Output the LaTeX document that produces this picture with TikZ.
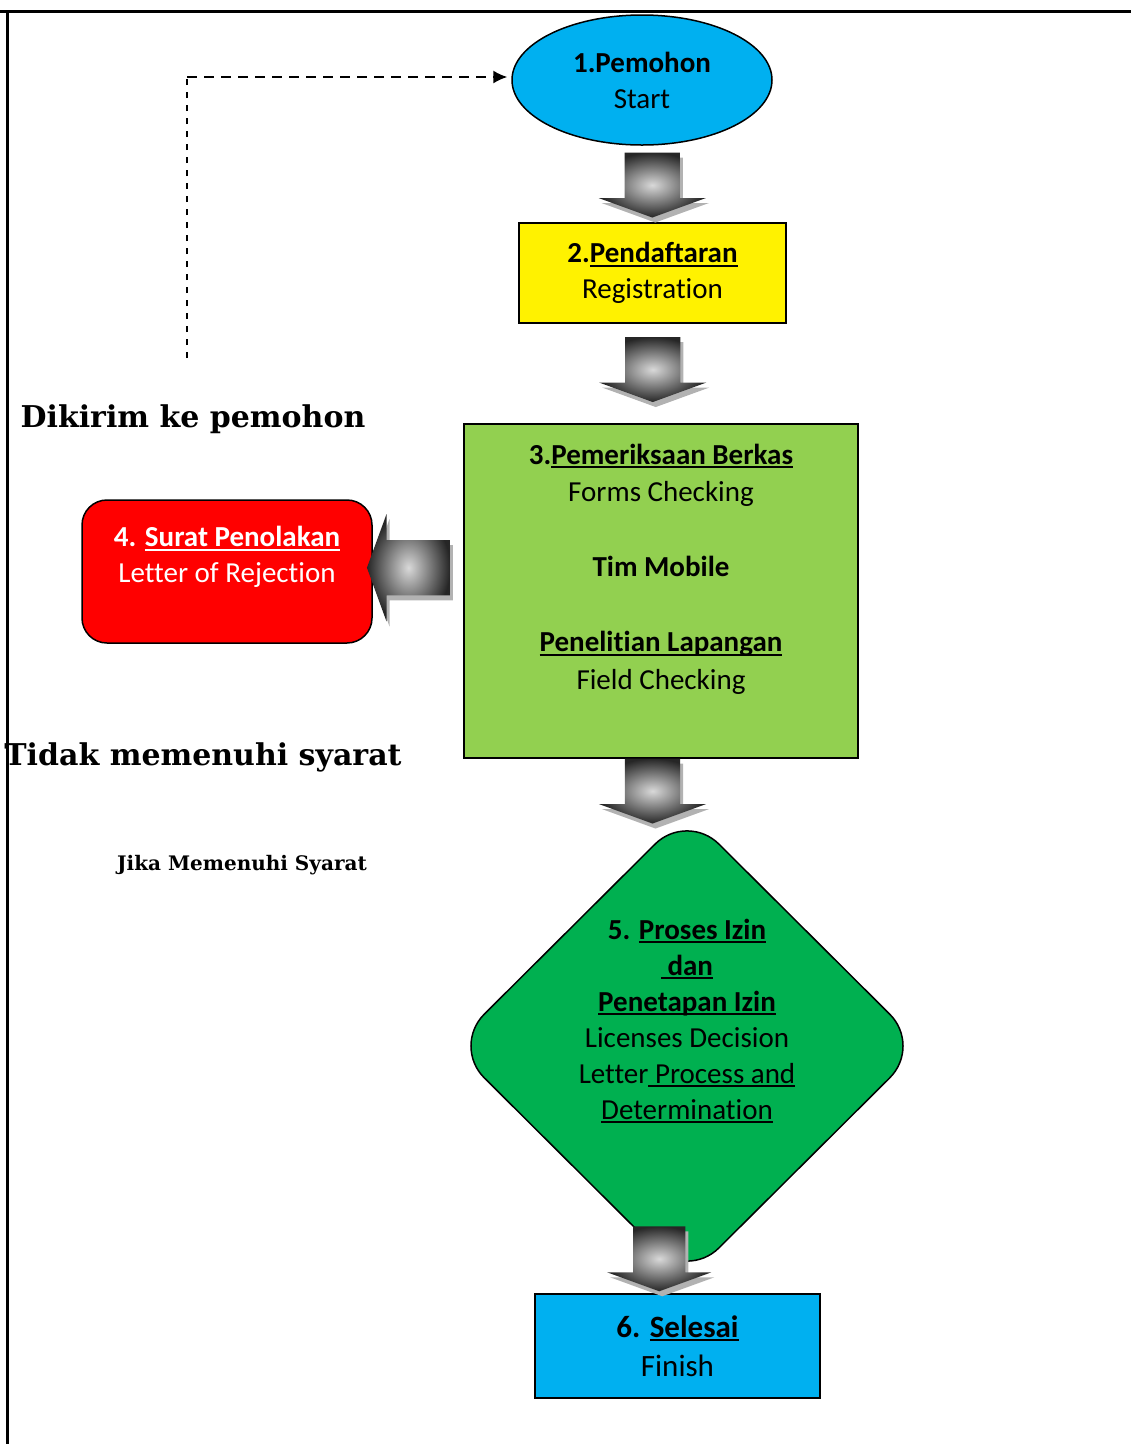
\documentclass[tikz,border=0pt]{standalone}
\usepackage{fontspec}
\setmainfont{Carlito}[Ligatures={NoCommon,NoContextual}, Contextuals=NoAlternate]
\newfontfamily\notefont{DejaVu Serif}
\newcommand{\uln}[1]{\setbox0=\hbox{#1}\rlap{\rule[-4pt]{\wd0}{1.8pt}}\box0}
\usetikzlibrary{arrows.meta,positioning,calc,shapes.geometric,shapes.arrows,shadows}
\definecolor{skyfill}{HTML}{00B0F0}
\definecolor{limefill}{HTML}{92D050}
\definecolor{leaffill}{HTML}{00B050}
\tikzset{
	stage/.style={draw, line width=1.5pt, align=center, inner sep=0pt, font=\fontsize{29}{36}\selectfont},
	txt/.style={align=center, inner sep=0pt, font=\fontsize{29}{36}\selectfont},
	bigarrow/.style={single arrow, draw=none, inner xsep=0pt, inner ysep=27.5pt, minimum height=65pt, single arrow head extend=26pt, single arrow tip angle=140, inner color=gray!30, outer color=black!85, drop shadow={shadow xshift=3pt, shadow yshift=-5pt, fill=gray!60, opacity=1}},
	note/.style={inner sep=0pt, font=\notefont\bfseries\fontsize{30}{36}\selectfont},
	sendback/.style={dashed, line width=1.6pt},
	frame/.style={line width=3pt}
}

\begin{document}
\begin{tikzpicture}[x=1pt, y=-1pt]
	\useasboundingbox (0,0) rectangle (1131,1444);
	\draw[frame] (0,11) -- (1131,11);
	\draw[frame] (7,11) -- (7,1444);

	\node[stage, ellipse, fill=skyfill, minimum width=260pt, minimum height=130pt] (start) at (642,80) {\textbf{1.Pemohon}\\Start};
	\node[stage, fill=yellow, minimum width=267pt, minimum height=100pt] (reg) at (652.5,273) {\textbf{2.\uln{Pendaftaran}}\\Registration};
	\node[stage, fill=limefill, minimum width=394pt, minimum height=334pt] (chk) at (661,591) {};
	\node[txt, font=\fontsize{29}{37.5}\selectfont] (chktxt) at (661,569) {\textbf{3.\uln{Pemeriksaan Berkas}}\\Forms Checking\\[37.5pt]\textbf{Tim Mobile}\\[37.5pt]\textbf{\uln{Penelitian Lapangan}}\\Field Checking};
	\node[stage, fill=red, rounded corners=25pt, minimum width=290pt, minimum height=143pt] (rej) at (227,571.5) {};
	\node[txt, text=white] (rejtxt) at (227,557) {\textbf{4. \uln{Surat Penolakan}}\\Letter of Rejection};
	\node[stage, diamond, fill=leaffill, rounded corners=45pt, minimum width=470pt, minimum height=468pt] (dec) at (687,1046) {};
	\node[txt] (dectxt) at (687,1021) {\textbf{5. \uln{Proses Izin}}\\\textbf{\uln{~dan}}\\\textbf{\uln{Penetapan Izin}}\\Licenses Decision\\Letter\uln{~Process and}\\\uln{Determination}};
	\node[stage, fill=skyfill, minimum width=285pt, minimum height=104pt, font=\fontsize{31}{39}\selectfont] (fin) at (677.5,1346) {\textbf{6. \uln{Selesai}}\\Finish};

	\node[xshift=5pt, yshift=4pt, bigarrow, rotate=-90] (a1) at ($(start.south)!0.5!(reg.north)$) {};
	\node[xshift=-4pt, yshift=9pt, bigarrow, rotate=-90] (a2) at ($(reg.south)!0.5!(chk.north)$) {};
	\node[xshift=-21.5pt, yshift=-1pt, bigarrow, rotate=-90] (a3) at ($(chk.south)!0.5!(dec.north)$) {};
	\node[xshift=-23pt, yshift=33pt, bigarrow, inner ysep=26pt, rotate=-90] (a4) at ($(dec.south)!0.5!(fin.north)$) {};
	\node[xshift=-4.5pt, yshift=13.5pt, bigarrow, minimum height=83pt, rotate=180] (a5) at ($(rej.east)!0.5!(chk.west)$) {};

	\node[note] (sent) at (193,419) {Dikirim ke pemohon};
	\node[note] (fail) at (203,757) {Tidak memenuhi syarat};
	\node[note, font=\notefont\bfseries\fontsize{20}{24}\selectfont] (pass) at (242,865) {Jika Memenuhi Syarat};

	\coordinate (back) at (187,358);
	\coordinate (bend) at (187,77);
	\draw[sendback, dash pattern=on 6pt off 7pt] (back) -- (bend);
	\draw[sendback, dash pattern=on 10pt off 7pt, -{Latex[length=14pt, width=13pt]}, shorten >=4pt] (bend) -- (bend -| start.west);
\end{tikzpicture}
\end{document}
